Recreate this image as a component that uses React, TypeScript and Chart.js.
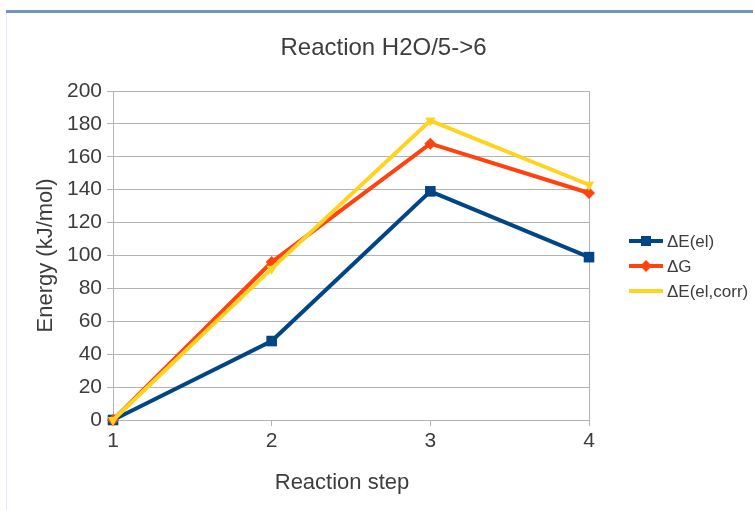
import React, { useEffect, useRef } from "react";
import { Chart, registerables } from "chart.js";

Chart.register(...registerables);

const steps = ["1", "2", "3", "4"];
const seriesNames = ["ΔE(el)", "ΔG", "ΔE(el,corr)"];
const dEel = [0, 48, 139, 99];
const dG = [0, 96, 168, 138];
const dEcorr = [0, 92, 182, 143];
const seriesColors = ["#004586", "#ff420e", "#ffd320"];
const yMin = 0;
const yMax = 200;
const yStep = 20;
const chartTitle = "Reaction H2O/5->6";
const xTitle = "Reaction step";
const yTitle = "Energy (kJ/mol)";

const FONT = "'Liberation Sans', Arial, sans-serif";
const TEXT = "#3d3d3d";
const GRID = "#b3b3b3";

const legendPlugin = {
  id: "sideLegend",
  afterDraw(chart: any) {
    const ctx = chart.ctx;
    const x0 = chart.chartArea.right + 40;
    ctx.save();
    // x-axis title
    ctx.fillStyle = TEXT;
    ctx.font = `22px ${FONT}`;
    ctx.textAlign = "center";
    ctx.textBaseline = "middle";
    ctx.fillText(xTitle, (chart.chartArea.left + chart.chartArea.right) / 2 - 9, 483);
    chart.data.datasets.forEach((ds: any, i: number) => {
      const y = 241 + i * 25;
      ctx.strokeStyle = ds.borderColor;
      ctx.lineWidth = 4;
      ctx.beginPath();
      ctx.moveTo(x0, y);
      ctx.lineTo(x0 + 34, y);
      ctx.stroke();
      const cx = x0 + 17;
      ctx.fillStyle = ds.borderColor;
      if (ds.pointStyle === "rect") {
        ctx.fillRect(cx - 5, y - 5, 10, 10);
      } else if (ds.pointStyle === "rectRot") {
        ctx.beginPath();
        ctx.moveTo(cx, y - 6);
        ctx.lineTo(cx + 6, y);
        ctx.lineTo(cx, y + 6);
        ctx.lineTo(cx - 6, y);
        ctx.closePath();
        ctx.fill();
      }
      ctx.fillStyle = TEXT;
      ctx.font = `17px ${FONT}`;
      ctx.textBaseline = "middle";
      ctx.textAlign = "left";
      ctx.fillText(ds.label, x0 + 38, y + 1);
    });
    ctx.restore();
  },
};

export default function App() {
  const ref = useRef<HTMLCanvasElement | null>(null);

  useEffect(() => {
    if (!ref.current) return;
    const chart = new Chart(ref.current, {
      type: "line",
      data: {
        labels: steps,
        datasets: [
          {
            label: seriesNames[0],
            data: dEel,
            borderColor: seriesColors[0],
            backgroundColor: seriesColors[0],
            borderWidth: 4,
            pointStyle: "rect",
            pointRadius: 7.5,
            pointBorderWidth: 0,
            order: 3,
            tension: 0,
            clip: false,
          },
          {
            label: seriesNames[1],
            data: dG,
            borderColor: seriesColors[1],
            backgroundColor: seriesColors[1],
            borderWidth: 4,
            pointStyle: "rectRot",
            pointRadius: 6,
            pointBorderWidth: 0,
            order: 2,
            tension: 0,
            clip: false,
          },
          {
            label: seriesNames[2],
            data: dEcorr,
            borderColor: seriesColors[2],
            backgroundColor: seriesColors[2],
            borderWidth: 4,
            pointStyle: "triangle",
            pointRotation: 180,
            pointRadius: 6,
            pointBorderWidth: 0,
            order: 1,
            tension: 0,
            clip: false,
          },
        ],
      },
      options: {
        responsive: false,
        animation: false,
        devicePixelRatio: 1,
        layout: { padding: { left: 14, right: 0, top: 0, bottom: 0 } },
        plugins: {
          legend: { display: false },
          tooltip: { enabled: false },
          title: {
            display: true,
            text: chartTitle,
            color: TEXT,
            font: { family: FONT, size: 24, weight: "normal" },
            padding: { top: 33.6, bottom: 28.6 },
          },
        },
        scales: {
          x: {
            type: "category",
            offset: false,
            afterFit: (s: any) => {
              s.height = 90;
            },
            grid: {
              color: (c: any) => (c.index === 0 || c.index === steps.length - 1 ? GRID : "rgba(0,0,0,0)"),
              tickColor: GRID,
              tickLength: 6,
              lineWidth: 1,
            },
            border: { display: true, color: GRID },
            ticks: {
              color: TEXT,
              font: { family: FONT, size: 21 },
              padding: 3,
              maxRotation: 0,
            },
            title: { display: false, text: xTitle },
          },
          y: {
            min: yMin,
            max: yMax,
            afterFit: (s: any) => {
              s.width = 99;
            },
            ticks: {
              stepSize: yStep,
              color: TEXT,
              font: { family: FONT, size: 21 },
              padding: 5,
            },
            grid: { color: GRID, tickColor: GRID, tickLength: 6, lineWidth: 1 },
            border: { display: true, color: GRID },
            title: {
              display: true,
              text: yTitle,
              color: TEXT,
              font: { family: FONT, size: 22 },
              padding: { top: 18.5, bottom: 0 },
            },
          },
          yRight: {
            type: "linear",
            position: "right",
            display: true,
            afterFit: (s: any) => {
              s.width = 164;
            },
            grid: { display: false, drawTicks: false },
            border: { display: false },
            ticks: { display: false },
          },
        },
      } as any,
      plugins: [legendPlugin],
    });
    return () => chart.destroy();
  }, []);

  return (
    <div style={{ position: "fixed", left: 0, top: 0, width: 753, height: 510, background: "#ffffff" }}>
      <canvas ref={ref} width={753} height={510} style={{ display: "block", width: 753, height: 510 }} />
      <div style={{ position: "absolute", left: 6, top: 10, width: 747, height: 3, background: "#7193c6" }} />
      <div style={{ position: "absolute", left: 6, top: 13, width: 1, height: 497, background: "#e4ebf6" }} />
    </div>
  );
}
